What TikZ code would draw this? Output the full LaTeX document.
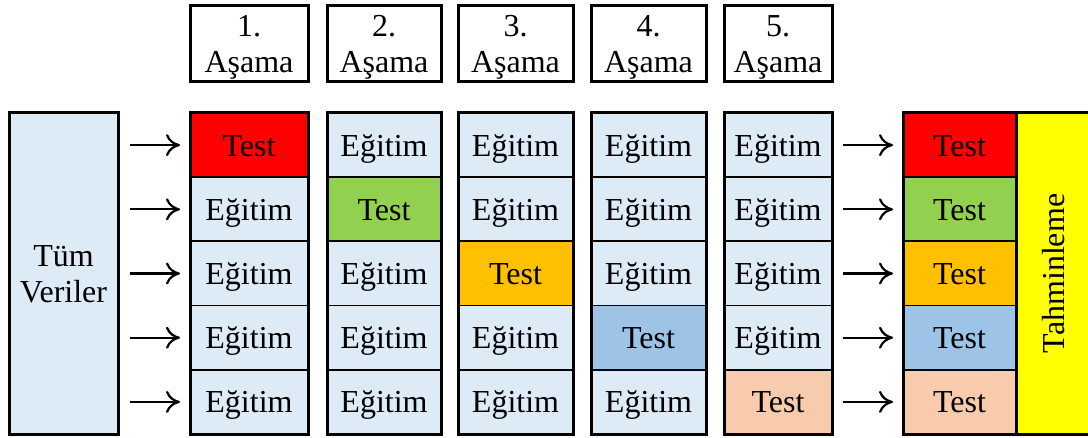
\documentclass[tikz,border=0pt]{standalone}
\usepackage{fontspec}
\setmainfont{LiberationSerif}[Extension=.ttf, UprightFont=*-Regular, BoldFont=*-Bold]
\newfontfamily\tmsfont{LiberationSerif}[Extension=.ttf, UprightFont=*-Regular]
\usetikzlibrary{arrows.meta}
\definecolor{lb}{RGB}{221,235,247}
\definecolor{t1}{RGB}{255,0,0}
\definecolor{t2}{RGB}{146,208,80}
\definecolor{t3}{RGB}{255,192,0}
\definecolor{t4}{RGB}{157,195,230}
\definecolor{t5}{RGB}{248,203,173}
\definecolor{tah}{RGB}{255,255,0}
\begin{document}
\begin{tikzpicture}[x=1pt,y=1pt,
  every node/.style={outer sep=0pt, inner sep=0pt},
  txt/.style={font=\tmsfont\fontsize{32}{36}\selectfont},
  cell/.style={txt, draw=black, line width=1.8pt, fill=lb, minimum height=64.2pt, text height=22pt, text depth=0pt},
  head/.style={txt, draw=black, line width=3pt, fill=white, minimum height=76pt, align=center, text height=58pt, text depth=0pt},
  frame/.style={draw=black, line width=3pt},
  arr/.style={draw=black, line width=2.2pt, -{Computer Modern Rightarrow[length=14pt,width=22pt,line width=2.2pt]}}
]
\useasboundingbox (0,0) rectangle (1088,437);
% left box
\node[txt, frame, fill=lb, minimum width=109pt, minimum height=321pt, align=center, text height=58pt, text depth=0pt] (all) at (63.5,163.5) {Tüm\\Veriler};
% stage columns
\foreach \c/\x/\w in {1/249/118,2/384/114,3/515.5/115,4/648.5/115,5/778/108} {
  \node[head, minimum width=\w pt] (h\c) at (\x,393) {\c.\\Aşama};
  \foreach \r in {1,...,5} {
    \pgfmathsetmacro\yy{437-113-64.2*(\r-0.5)}
    \ifnum\r=\c
      \node[cell, fill=t\r, minimum width=\w pt] (c\c-\r) at (\x,\yy) {Test};
    \else
      \node[cell, minimum width=\w pt] (c\c-\r) at (\x,\yy) {Eğitim};
    \fi
  }
  \draw[frame] (c\c-1.north west) rectangle (c\c-5.south east);
}
% result column
\foreach \r in {1,...,5} {
  \pgfmathsetmacro\yy{437-113-64.2*(\r-0.5)}
  \node[cell, fill=t\r, minimum width=113pt] (r\r) at (959.5,\yy) {Test};
}
\draw[frame] (r1.north west) rectangle (r5.south east);
\node[txt, frame, fill=tah, rotate=90, minimum width=321pt, minimum height=76pt] (tah) at (1054,163.5) {Tahminleme};
% arrows
\foreach \r in {1,...,5} {
  \draw[arr, shorten <=12pt, shorten >=10pt] (all.east |- c1-\r.west) -- (c1-\r.west);
  \draw[arr, shorten <=11pt, shorten >=10pt] (c5-\r.east) -- (r\r.west);
}
\end{tikzpicture}
\end{document}
